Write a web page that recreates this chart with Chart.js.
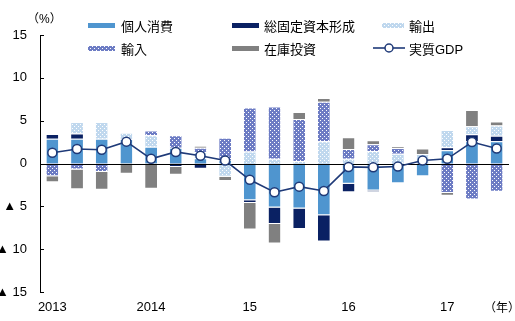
<!DOCTYPE html>
<html lang="ja">
<head>
<meta charset="utf-8">
<script src="https://cdn.jsdelivr.net/npm/chart.js@4/dist/chart.umd.min.js"></script>
<style>
  body { margin: 0; background: #fff; }
  #wrap { position: relative; width: 515px; height: 321px; overflow: hidden;
          font-family: 'Liberation Sans', Arial, 'Noto Sans CJK JP', sans-serif; }
  #chart { position: absolute; left: 0; top: 0; }
  .lg { position: absolute; height: 18px; font-size: 13px; color: #000;
        display: flex; align-items: center; white-space: nowrap; }
  .lg canvas { display: block; }
  .note { position: absolute; font-size: 12px; color: #000; }
</style>
</head>
<body>
<div id="wrap">
  <canvas id="chart" width="515" height="321"></canvas>
  <div class="note" style="left:27px; top:9px;">（%）</div>
  <div class="note" style="left:484px; top:298px;">（年）</div>
  <div id="legend"></div>
</div>
<script>
// 四半期（2013年1-3月期〜2017年7-9月期）
const quarters = ['2013', '', '', '', '2014', '', '', '', '15', '', '', '', '16', '', '', '', '17', '', ''];

// 寄与度（%ポイント）
const consumption = [2.9, 2.9, 2.9, 2.85, 1.95, 1.85, 0.6, 0.4, -4.3, -5.15, -5.25, -6.05, -2.35, -3.15, -2.3, -1.5, 1.55, 2.6, 2.6];
const investment  = [0.55, 0.6, 0, 0, 0, -0.4, -0.6, 0, -0.3, -1.9, -2.4, -3.05, -1.0, -0.15, 0, 0, 0.35, 0.8, 0.65];
const exports     = [0, 1.35, 1.95, 0.75, 1.35, 0, 0.75, -1.55, 1.4, 0.55, 0.3, 2.6, 0.55, 1.45, 1.15, 1.1, 2.0, 0.95, 1.2];
const imports     = [-1.5, -0.7, -1.0, 0, 0.55, 1.45, 0.5, 2.6, 5.15, 6.1, 4.9, 4.6, 1.15, 0.8, 0.65, 0, -3.45, -4.2, -3.3];
const inventory   = [-0.7, -2.3, -2.05, -1.2, -2.95, -0.9, 0.2, -0.5, -3.1, -2.3, 0.8, 0.45, 1.35, 0.45, 0.2, 0.65, -0.3, 1.9, 0.45];
const realGDP     = [1.25, 1.7, 1.6, 2.55, 0.55, 1.35, 0.9, 0.35, -1.9, -3.35, -2.7, -3.2, -0.4, -0.45, -0.35, 0.35, 0.55, 2.5, 1.75];

const yTicks = [15, 10, 5, 0, -5, -10, -15];

const canvas = document.getElementById('chart');
const ctx = canvas.getContext('2d');

// 白い点の模様
function dotTile(base) {
  const t = document.createElement('canvas');
  t.width = 4; t.height = 4;
  const g = t.getContext('2d');
  g.fillStyle = base; g.fillRect(0, 0, 4, 4);
  g.fillStyle = '#ffffff';
  g.fillRect(0, 0, 1, 1);
  g.fillRect(2, 2, 1, 1);
  return t;
}

const colors = {
  consumption: '#4f95cf',
  investment: '#0a2163',
  exports: ctx.createPattern(dotTile('#c0d8ee'), 'repeat'),
  imports: ctx.createPattern(dotTile('#6d7cc4'), 'repeat'),
  inventory: '#808080',
  gdp: '#1f3a78'
};

function barSet(label, data, color) {
  return {
    type: 'bar', label, data, backgroundColor: color, order: 1,
    borderColor: '#ffffff', borderWidth: { top: 1, bottom: 1, left: 0, right: 0 },
    borderSkipped: 'start', barPercentage: 0.48, categoryPercentage: 1, stack: 'parts'
  };
}

// ゼロ線と内向きの目盛り
const axisMarks = {
  id: 'axisMarks',
  beforeDatasetDraw(chart, args) {
    if (args.meta.type !== 'line') return;
    const { ctx, chartArea, scales } = chart;
    const y0 = Math.round(scales.y.getPixelForValue(0)) + 0.5;
    ctx.save();
    ctx.strokeStyle = '#000'; ctx.lineWidth = 1;
    ctx.beginPath(); ctx.moveTo(chartArea.left, y0); ctx.lineTo(chartArea.right, y0); ctx.stroke();
    ctx.restore();
  },
  afterDraw(chart) {
    const { ctx, chartArea, scales } = chart;
    ctx.save();
    ctx.strokeStyle = '#000'; ctx.lineWidth = 1;
    yTicks.forEach(v => {
      const y = Math.round(scales.y.getPixelForValue(v)) + 0.5;
      ctx.beginPath(); ctx.moveTo(chartArea.left, y); ctx.lineTo(chartArea.left + 4, y); ctx.stroke();
    });
    ctx.restore();
  }
};

new Chart(ctx, {
  data: {
    labels: quarters,
    datasets: [
      barSet('個人消費', consumption, colors.consumption),
      barSet('総固定資本形成', investment, colors.investment),
      barSet('輸出', exports, colors.exports),
      barSet('輸入', imports, colors.imports),
      barSet('在庫投資', inventory, colors.inventory),
      {
        type: 'line', label: '実質GDP', data: realGDP, order: 0, stack: 'gdp',
        borderColor: colors.gdp, borderWidth: 1.6,
        pointRadius: 4.5, pointBackgroundColor: '#fff', pointBorderColor: colors.gdp, pointBorderWidth: 1.5,
        tension: 0
      }
    ]
  },
  options: {
    responsive: false,
    animation: false,
    layout: { padding: { top: 35, right: 5, bottom: 0, left: 0 } },
    plugins: { legend: { display: false }, tooltip: { enabled: false } },
    scales: {
      x: {
        stacked: true,
        offset: true,
        grid: { display: false, drawTicks: false },
        border: { display: false },
        ticks: {
          autoSkip: false, maxRotation: 0, padding: 8, color: '#000',
          font: { family: "'Liberation Sans', Arial, sans-serif", size: 13 }
        },
        afterFit: s => { s.height = 29; }
      },
      y: {
        stacked: true,
        min: -15, max: 15,
        grid: { display: false, drawTicks: false },
        border: { display: true, color: '#000', width: 1 },
        ticks: {
          stepSize: 5, padding: 13, color: '#000',
          font: { family: "'Liberation Sans', 'DejaVu Sans', sans-serif", size: 13 },
          callback: v => v < 0 ? '▲ ' + (-v) : String(v)
        },
        afterFit: s => { s.width = 40; }
      }
    }
  },
  plugins: [axisMarks]
});

// 凡例
const legendItems = [
  { label: '個人消費', fill: colors.consumption, x: 88, y: 25, w: 27, gap: 6 },
  { label: '総固定資本形成', fill: colors.investment, x: 232, y: 25, w: 27, gap: 5 },
  { label: '輸出', fill: colors.exports, x: 382, y: 25, w: 22, gap: 5 },
  { label: '輸入', fill: colors.imports, x: 88, y: 48, w: 27, gap: 6 },
  { label: '在庫投資', fill: colors.inventory, x: 232, y: 48, w: 27, gap: 5 },
  { label: '実質GDP', line: true, x: 373, y: 48, w: 32, gap: 4 }
];
const legend = document.getElementById('legend');
legendItems.forEach(it => {
  const div = document.createElement('div');
  div.className = 'lg';
  div.style.left = it.x + 'px';
  div.style.top = (it.y - 9) + 'px';
  const sw = document.createElement('canvas');
  sw.width = it.w; sw.height = 12;
  sw.style.marginRight = it.gap + 'px';
  const g = sw.getContext('2d');
  if (it.line) {
    g.strokeStyle = colors.gdp; g.lineWidth = 1.6;
    g.beginPath(); g.moveTo(0, 6); g.lineTo(it.w, 6); g.stroke();
    g.fillStyle = '#fff'; g.lineWidth = 1.5;
    g.beginPath(); g.arc(it.w / 2, 6, 4, 0, Math.PI * 2); g.fill(); g.stroke();
  } else {
    g.fillStyle = typeof it.fill === 'string' ? it.fill : g.createPattern(dotTile(it.label === '輸出' ? '#c0d8ee' : '#6d7cc4'), 'repeat');
    g.fillRect(0, 4, it.w, 5);
  }
  div.appendChild(sw);
  const span = document.createElement('span');
  span.textContent = it.label;
  div.appendChild(span);
  legend.appendChild(div);
});
</script>
</body>
</html>
